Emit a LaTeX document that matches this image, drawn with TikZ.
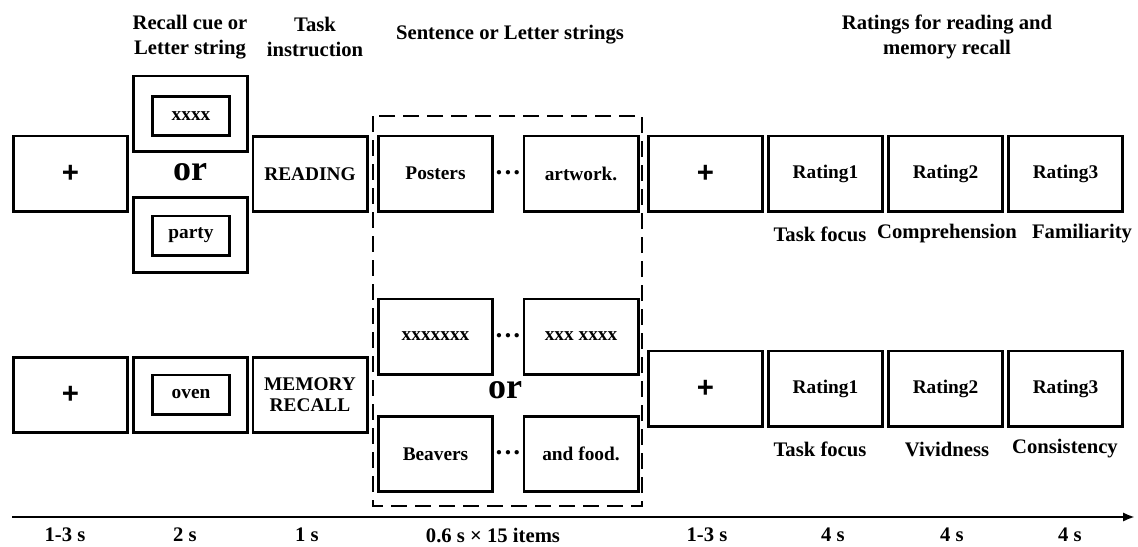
\documentclass[tikz,border=0pt]{standalone}
\usepackage{fontspec}
\setmainfont{Liberation Serif}
\newfontfamily\plusfont{Liberation Sans}
\usetikzlibrary{arrows.meta,positioning}
\tikzset{
  scr/.style={draw,rectangle,line width=2pt,minimum width=85.75pt,minimum height=56.5pt,inner sep=0pt,align=center,font=\fontsize{14.5}{16}\selectfont\bfseries},
  inscr/.style={scr,minimum width=58pt,minimum height=29.5pt},
  fixscr/.style={scr,font=\plusfont\fontsize{22}{22}\selectfont\bfseries},
  dashbox/.style={draw,line width=2pt,dash pattern=on 12pt off 6pt},
  hdr/.style={font=\fontsize{15.5}{18.75}\selectfont\bfseries,align=center},
  lbl/.style={font=\fontsize{15.5}{17}\selectfont\bfseries},
  orlbl/.style={font=\fontsize{27}{27}\selectfont\bfseries},
  dotlbl/.style={font=\fontsize{20}{20}\selectfont\bfseries,inner sep=0pt},
  arr/.style={-{Latex[length=9pt,width=7pt]},line width=2pt}
}
\begin{document}
\begin{tikzpicture}[x=0.75pt,y=-0.75pt]
  \useasboundingbox (0,0) rectangle (1138,546);

  % headers
  \node[hdr] (hcue) at (190,37) {Recall cue or\\Letter string};
  \node[hdr] (hins) at (315,37) {Task\\instruction};
  \node[hdr] (hseq) at (510,35) {Sentence or Letter strings};
  \node[hdr] (hrat) at (947,37) {Ratings for reading and\\memory recall};

  % reading trial
  \node[fixscr] (fixa) at (70.5,173.5) {+};
  \node[scr] (cuea) at (190.5,113.5) {};
  \node[inscr] (cueain) at (191,116) {xxxx};
  \node[orlbl] (ora) at (190,172) {or};
  \node[scr] (cueb) at (190.5,235) {};
  \node[inscr] (cuebin) at (191,235.5) {party};
  \node[scr] (read) at (310,174) {READING};
  \node[scr] (wrda) at (435.5,173.5) {Posters};
  \node[scr] (wrdb) at (581,173.5) {artwork.};
  \node[dotlbl] (dta) at (508,176) {···};
  \node[fixscr] (fixb) at (705.5,173.5) {+};
  \node[scr,right=2.25pt of fixb] (rta) {Rating1};
  \node[scr,right=2.25pt of rta] (rtb) {Rating2};
  \node[scr,right=2.25pt of rtb] (rtc) {Rating3};
  \node[lbl] (lta) at (820,234) {Task focus};
  \node[lbl] (ltb) at (947,234) {Comprehension};
  \node[lbl] (ltc) at (1082,234) {Familiarity};

  % memory recall trial
  \node[fixscr] (fixc) at (70.5,395) {+};
  \node[scr] (cuec) at (190.5,395) {};
  \node[inscr] (cuecin) at (191,394.5) {oven};
  \node[scr] (rcl) at (310,395) {MEMORY\\RECALL};
  \node[scr] (ltra) at (435.5,336.5) {xxxxxxx};
  \node[scr] (ltrb) at (581,336.5) {xxx xxxx};
  \node[dotlbl] (dtb) at (508,339) {···};
  \node[orlbl] (orb) at (505,390) {or};
  \node[scr] (wrdc) at (435.5,454) {Beavers};
  \node[scr] (wrdd) at (581,454) {and food.};
  \node[dotlbl] (dtc) at (508,456.5) {···};
  \node[fixscr] (fixd) at (705.5,388.5) {+};
  \node[scr,right=2.25pt of fixd] (rtd) {Rating1};
  \node[scr,right=2.25pt of rtd] (rte) {Rating2};
  \node[scr,right=2.25pt of rte] (rtf) {Rating3};
  \node[lbl] (ltd) at (820,449) {Task focus};
  \node[lbl] (lte) at (947,449) {Vividness};
  \node[lbl] (ltf) at (1065,449) {Consistency};

  % sequence frame
  \draw[dashbox] (373,116) rectangle (642,506);

  % time line
  \coordinate (tbeg) at (12,517);
  \coordinate (tend) at (1135,517);
  \draw[arr] (tbeg) -- (tend);
  \foreach \x/\t [count=\i] in {65/1-3 s,185/2 s,307/1 s,493/0.6 s × 15 items,707/1-3 s,833/4 s,952/4 s,1070/4 s}
    \node[lbl] (dur\i) at (\x,535) {\t};
\end{tikzpicture}
\end{document}
